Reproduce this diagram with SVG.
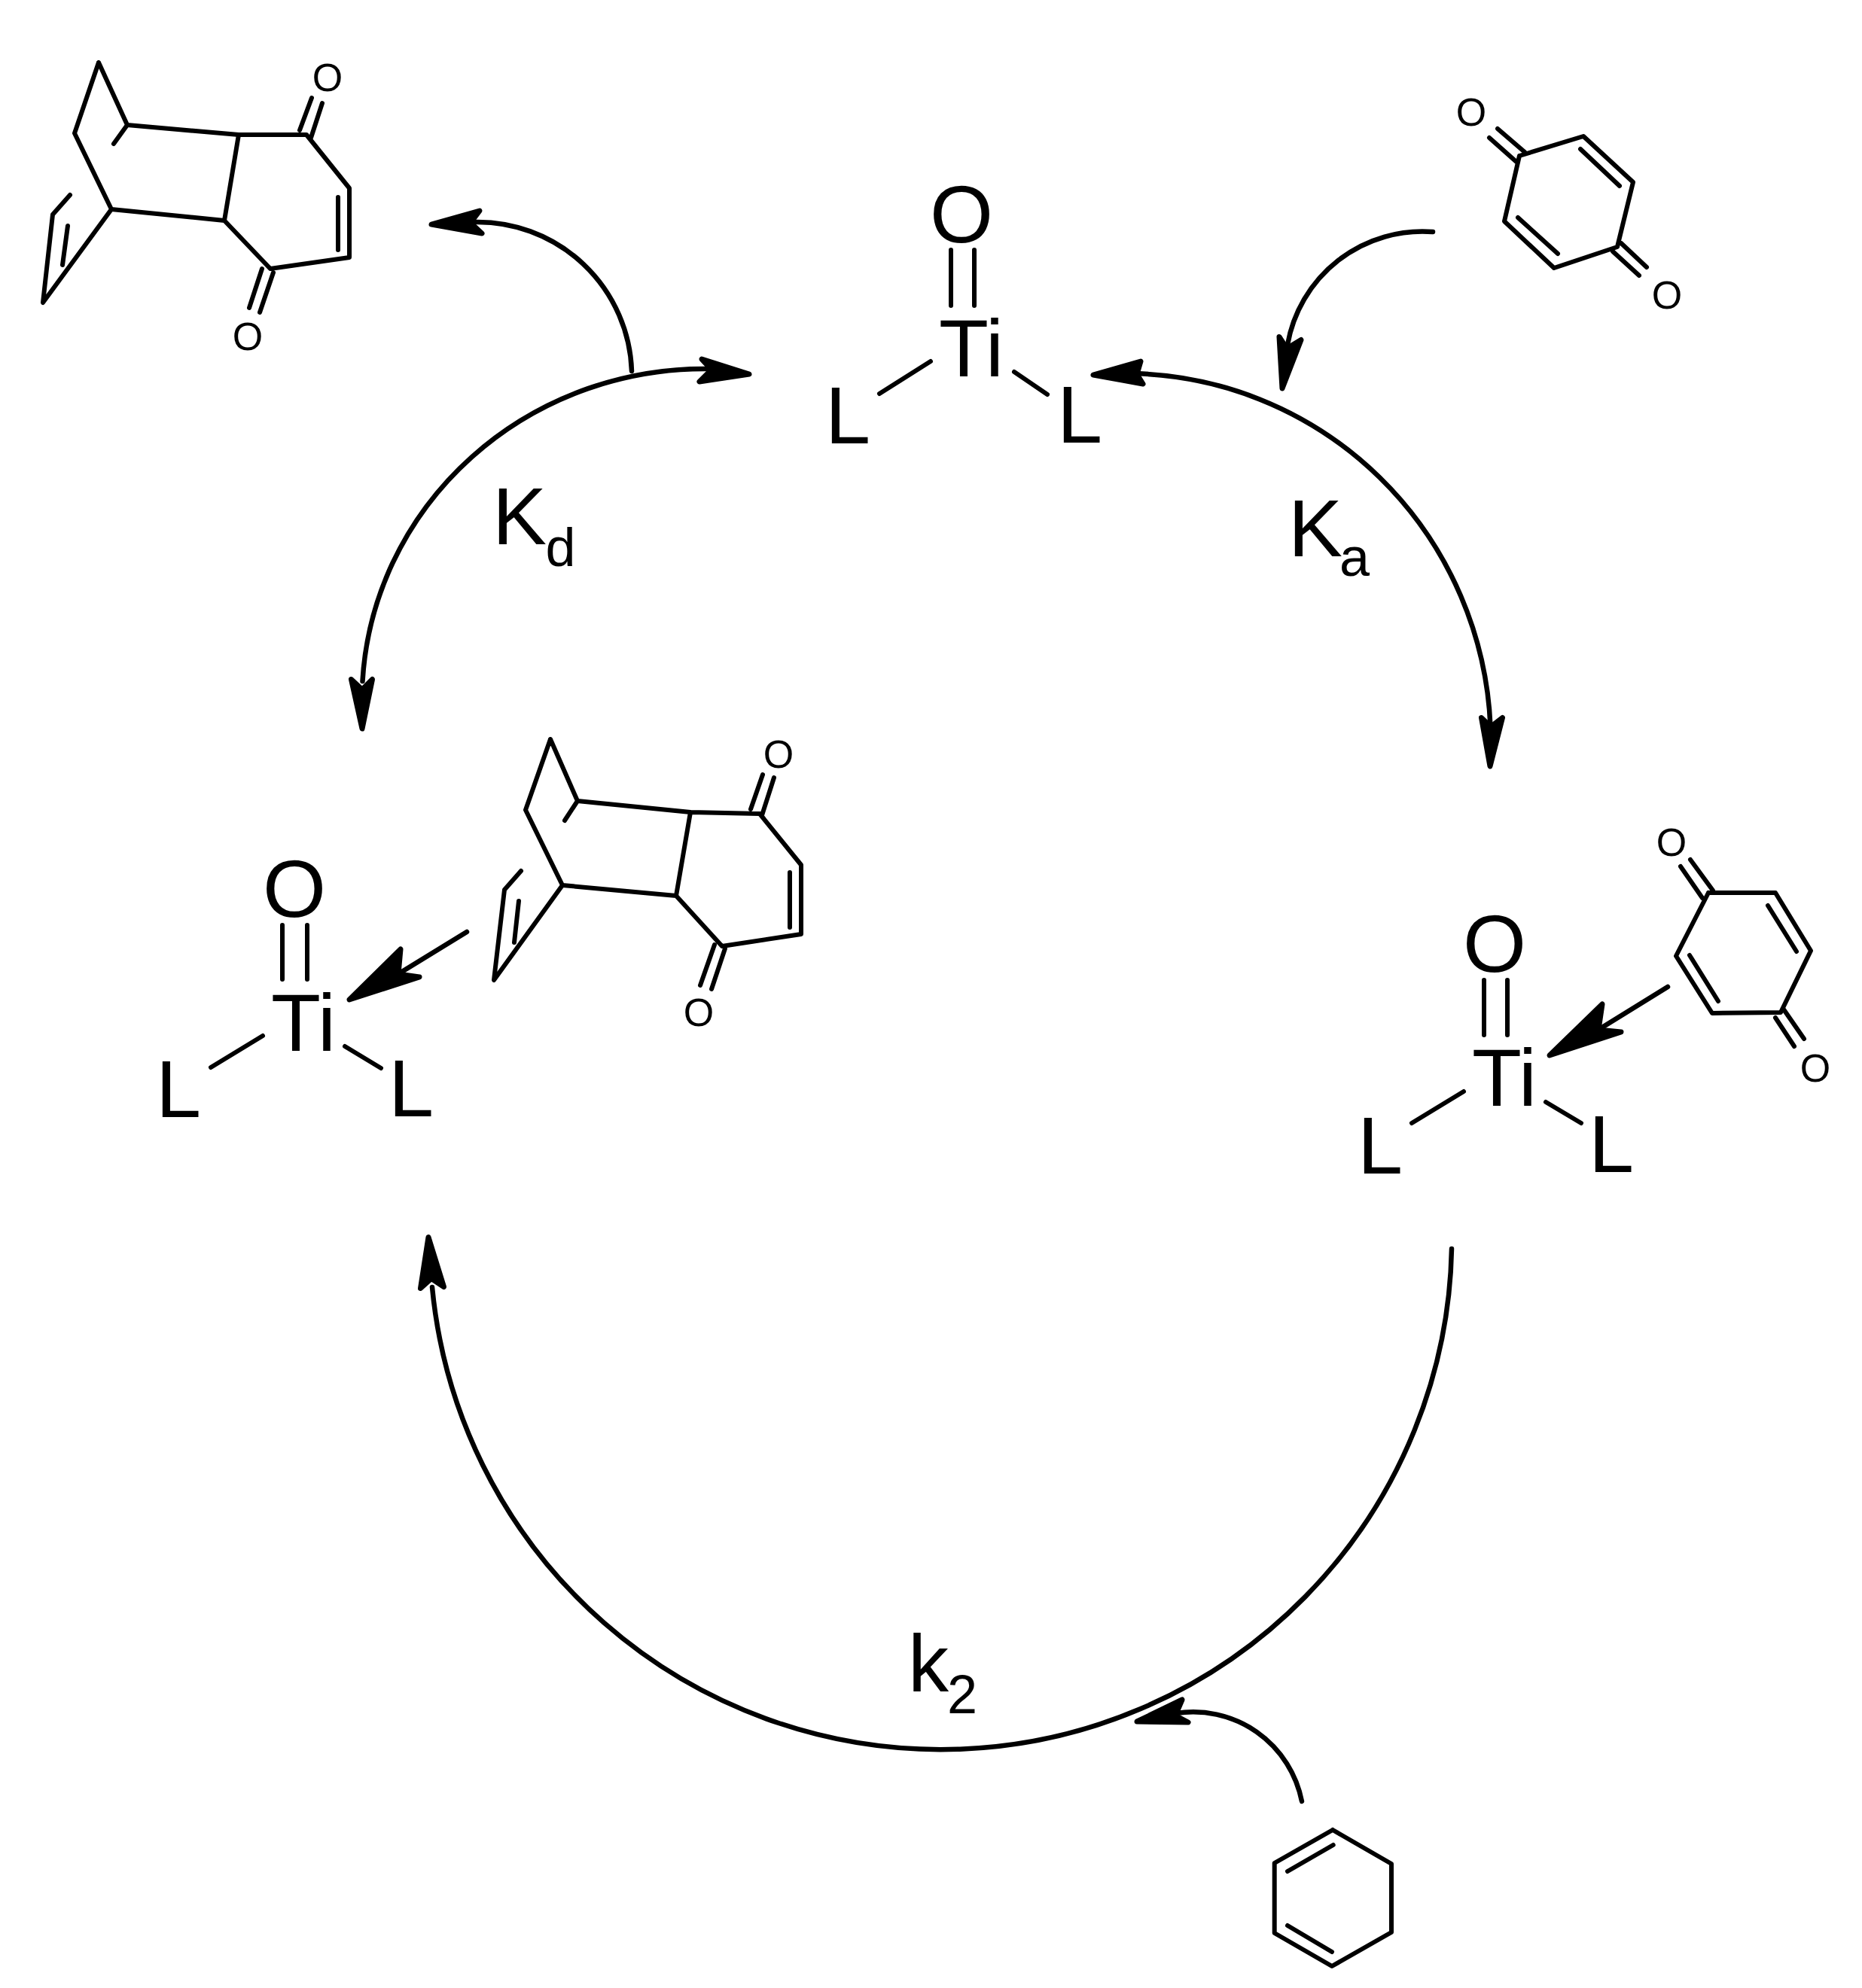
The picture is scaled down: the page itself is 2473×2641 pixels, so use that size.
<svg xmlns="http://www.w3.org/2000/svg" width="2473" height="2641" viewBox="0 0 2473 2641">
<style>
text{font-family:"Liberation Sans",Arial,sans-serif;fill:#000}
.b{fill:none;stroke:#000;stroke-width:6;stroke-linecap:round;stroke-linejoin:round}
.c{fill:none;stroke:#000;stroke-width:6.5;stroke-linecap:round}
.h{fill:#000;stroke:#000;stroke-width:7;stroke-linejoin:round}
.big{font-size:108px}
.o{font-size:52px;text-anchor:middle}
.m{text-anchor:middle}
.sub{font-size:72px}
</style>
<rect width="2473" height="2641" fill="#fff"/>
<g id="product-free">
<path class="b" d="M131,83L169,166L317,179L407,179L464,250L464,342L359,357L298,293L148,278L99,177L131,83M317,179L298,293M169,166L151,191M148,278L57,402L70,285L93,259M449,262L449,332M90,300L83,352M414,130L398,173M428,137L413,183M348,357L331,409M363,362L345,415"/>
<text class="o" x="435" y="121">O</text>
<text class="o" x="329" y="465">O</text>
</g>
<g id="quinone-free">
<path class="b" d="M2018,207L2103,181L2169,242L2148,328L2064,356L1998,294L2018,207M2099,198L2151,247M2016,289L2069,337M1989,171L2025,202M1978,183L2014,215M2153,323L2187,355M2142,334L2177,366"/>
<text class="o" x="1954" y="167">O</text>
<text class="o" x="2214" y="410">O</text>
</g>
<g id="ti-top">
<path class="b" d="M1263,332L1263,406M1294,332L1294,406M1236,480L1168,523M1347,494L1391,524"/>
<text class="big m" x="1277" y="322">O</text>
<text class="big" x="1247" y="500">Ti</text>
<text class="big" x="1096" y="589">L</text>
<text class="big" x="1404" y="588">L</text>
</g>
<g id="ti-left-complex">
<path class="b" d="M375,1229L375,1301M408,1229L408,1301M349,1376L280,1418M458,1390L506,1419"/>
<text class="big m" x="391" y="1218">O</text>
<text class="big" x="360" y="1396">Ti</text>
<text class="big" x="207" y="1484">L</text>
<text class="big" x="516" y="1483">L</text>
<path class="b" d="M731,982L767,1064L917,1079L1009,1081L1064,1149L1064,1241L959,1257L898,1190L747,1176L698,1076L731,982M917,1079L898,1190M767,1064L750,1090M747,1176L656,1302L670,1182L692,1157M1049,1159L1049,1232M689,1197L683,1252M1013,1029L997,1075M1028,1033L1012,1083M949,1255L930,1309M963,1260L945,1314"/>
<text class="o" x="1034" y="1020">O</text>
<text class="o" x="928" y="1363">O</text>
</g>
<g id="ti-right-complex">
<path class="b" d="M1971,1302L1971,1375M2002,1302L2002,1375M1944,1450L1875,1492M2053,1464L2100,1492"/>
<text class="big m" x="1985" y="1291">O</text>
<text class="big" x="1955" y="1469">Ti</text>
<text class="big" x="1803" y="1559">L</text>
<text class="big" x="2110" y="1557">L</text>
<path class="b" d="M2269,1186L2358,1186L2405,1263L2365,1345L2274,1346L2226,1270L2269,1186M2348,1203L2386,1264M2244,1269L2282,1330M2245,1142L2275,1183M2232,1151L2261,1193M2369,1341L2396,1380M2358,1352L2383,1390"/>
<text class="o" x="2220" y="1137">O</text>
<text class="o" x="2411" y="1437">O</text>
</g>
<g id="cyclohexadiene">
<path class="b" d="M1770,2431L1848,2476L1848,2567L1769,2612L1692.7,2568L1692.7,2475L1770,2431M1710,2486L1770.7,2451M1710,2558L1769,2593"/>
</g>
<g id="connectors">
<path class="c" d="M945,490A455,440 0 0 0 481.5,905"/>
<path class="h" d="M995,497L932,477L945,491L929,507Z"/>
<path class="h" d="M481,968L466.5,902.5L481,916L494.5,902.5Z"/>
<path class="c" d="M839,493A205,205 0 0 0 629,295"/>
<path class="h" d="M573,298L637,280L625,296L640,310Z"/>
<path class="c" d="M1903,308A182,182 0 0 0 1710,458"/>
<path class="h" d="M1703,516L1699,447.5L1709,463L1728,451.5Z"/>
<path class="c" d="M1500,496A486,490 0 0 1 1979.5,965"/>
<path class="h" d="M1452,498L1515,480L1510,497L1518,510Z"/>
<path class="h" d="M1979,1018L1967.5,953.5L1980,965.5L1995.5,953.5Z"/>
<path class="c" d="M1928,1659A678.6,678.6 0 0 1 574,1710"/>
<path class="h" d="M569,1643.5L558.5,1711.5L573,1698.5L589.5,1709.5Z"/>
<path class="c" d="M1729,2393A147,147 0 0 0 1562,2276"/>
<path class="h" d="M1510,2287L1570,2258L1561,2279L1578,2288Z"/>
<path class="c" d="M620,1238L532,1292"/>
<path class="h" d="M464,1328L532,1261L529,1294L557,1298Z"/>
<path class="c" d="M2215,1311L2126,1366"/>
<path class="h" d="M2058,1402L2128,1334L2123,1368L2153,1371Z"/>
</g>
<g id="labels">
<text class="big" x="654" y="723">K</text><text class="sub" x="724.5" y="752">d</text>
<text class="big" x="1711" y="739">K</text><text class="sub" x="1779" y="765">a</text>
<text class="big" x="1206" y="2247">k</text><text class="sub" x="1258" y="2276">2</text>
</g>
</svg>
